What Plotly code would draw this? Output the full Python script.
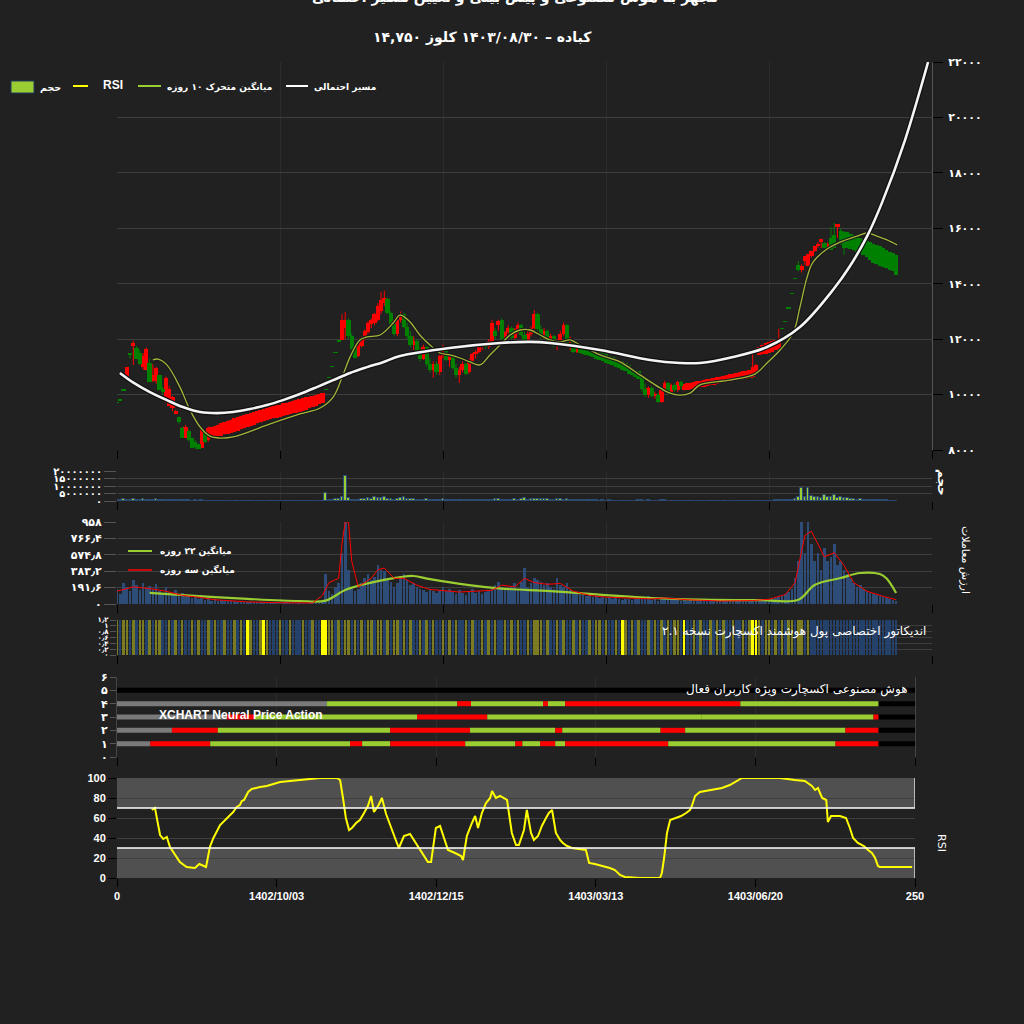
import plotly.graph_objects as go

W = H = 1024
def fx(p): return p / W
def fy(p): return 1 - p / H

BG = "#212121"
GRID = "#3e3e3e"
RED = "#ff0000"
GREEN = "#008000"
FONT = "DejaVu Sans"

# ---------------- price candles (index 0..239) ----------------
open_ = [9700, 9800, 10150, 10630, 11460, 11750, 11680, 11500, 11000, 10900,
         11140, 10500, 10500, 10700, 10200, 9730, 9600, 9500, 9300, 9200,
         8790, 8430, 8700, 8430, 8300, 8200, 8070, 8600, 8350, 8430,
         8460, 8490, 8520, 8560, 8590, 8620, 8650, 8700, 8740, 8780,
         8830, 8870, 8920, 8960, 9000, 9040, 9080, 9110, 9140, 9170,
         9200, 9230, 9260, 9290, 9320, 9350, 9370, 9420, 9460, 9500,
         9550, 9600, 9650, 9700, 10165, 10600, 11000, 11500, 11930, 11970,
         12400, 12690, 12100, 11680, 11400, 11750, 12000, 12250, 12550, 12600,
         12700, 13000, 13300, 13450, 12950, 12550, 12200, 12700, 12900, 12450,
         12100, 11800, 11950, 11500, 11300, 11700, 11100, 10900, 11100, 10800,
         11400, 11700, 11250, 11400, 10950, 10700, 10900, 11100, 10800, 11200,
         11450, 11550, 11750, 11800, 11700, 11950, 12300, 12500, 12690, 12000,
         12250, 12400, 12050, 12350, 12500, 12150, 11900, 12200, 12400, 12900,
         12350, 12100, 12300, 11900, 12100, 11750, 11900, 12200, 12500, 11800,
         11900, 11550, 11800, 11750, 11700, 11650, 11620, 11580, 11540, 11500,
         11450, 11400, 11350, 11300, 11250, 11200, 11150, 11050, 10950, 10900,
         10850, 10600, 10200, 10000, 10250, 9950, 10000, 9750, 10150, 10400,
         10100, 10350, 10150, 10450, 10150, 10170, 10190, 10210, 10230, 10260,
         10280, 10300, 10330, 10350, 10370, 10400, 10420, 10440, 10460, 10490,
         10510, 10530, 10550, 10580, 10600, 10650, 10800, 11430, 11450, 11480,
         11500, 11550, 11600, 11650, 12370, 12620, 13120, 13630, 14170, 14670,
         14500, 14820, 14640, 15000, 15190, 15370, 15510, 15470, 15290, 15650,
         15760, 16050, 15900, 15870, 15850, 15800, 15750, 15700, 15650, 15600,
         15550, 15500, 15450, 15400, 15350, 15300, 15200, 15150, 15100, 15040]
high_ = [9700, 9800, 10150, 11000, 11460, 11950, 11750, 11600, 11500, 11700,
         11300, 11100, 11000, 10700, 10300, 10650, 10300, 9950, 9450, 9200,
         8850, 8900, 8750, 8450, 8350, 8200, 8800, 8650, 8850, 8830,
         8870, 8920, 8960, 9010, 9060, 9100, 9150, 9190, 9230, 9260,
         9300, 9330, 9370, 9400, 9440, 9470, 9510, 9540, 9580, 9610,
         9640, 9680, 9710, 9740, 9780, 9810, 9840, 9870, 9900, 9930,
         9960, 9990, 10020, 10050, 10165, 10600, 11000, 11500, 11930, 12900,
         12980, 12750, 12200, 11700, 11800, 12100, 12350, 12650, 12750, 12950,
         13300, 13700, 13750, 13500, 13000, 12700, 12800, 13000, 12950, 12600,
         12300, 12100, 12000, 11700, 11800, 11750, 11300, 11200, 11200, 11500,
         11800, 11750, 11500, 11450, 11100, 11000, 11200, 11150, 11300, 11500,
         11600, 11800, 11850, 11900, 12000, 12700, 12400, 12700, 12750, 12300,
         12500, 12450, 12400, 12600, 12550, 12350, 12300, 12450, 13050, 12950,
         12500, 12400, 12350, 12200, 12150, 12000, 12300, 12600, 12550, 12100,
         11950, 11900, 11850, 11750, 11700, 11650, 11620, 11580, 11540, 11500,
         11450, 11400, 11350, 11300, 11250, 11200, 11150, 11050, 10950, 10900,
         10850, 10650, 10400, 10300, 10300, 10100, 10050, 10200, 10500, 10450,
         10400, 10400, 10500, 10500, 10380, 10400, 10430, 10450, 10480, 10500,
         10530, 10550, 10580, 10600, 10630, 10650, 10680, 10700, 10730, 10760,
         10790, 10810, 10840, 10860, 10890, 11540, 11100, 11700, 11800, 11850,
         11900, 11950, 11970, 12370, 12370, 12620, 13120, 13630, 14170, 14820,
         14700, 15000, 15080, 15190, 15370, 15500, 15620, 15500, 15500, 16050,
         16190, 16150, 16000, 15900, 15850, 15800, 15750, 15700, 15650, 15600,
         15550, 15500, 15450, 15400, 15350, 15300, 15200, 15150, 15100, 15040]
low_ = [9700, 9800, 10150, 10630, 11300, 11070, 11300, 11070, 10900, 10890,
        10450, 10450, 10400, 10165, 10000, 9700, 9600, 9400, 9300, 8950,
        8430, 8430, 8300, 8070, 8050, 8030, 8070, 8250, 8300, 8430,
        8460, 8490, 8520, 8560, 8590, 8620, 8650, 8700, 8740, 8780,
        8830, 8870, 8920, 8960, 9000, 9040, 9080, 9110, 9140, 9170,
        9200, 9230, 9260, 9290, 9320, 9350, 9370, 9420, 9460, 9500,
        9550, 9600, 9650, 9700, 10165, 10600, 11000, 11500, 11930, 11970,
        12000, 12000, 11600, 11300, 11350, 11700, 11950, 12200, 12400, 12500,
        12650, 12900, 13200, 12900, 12500, 12100, 12100, 12600, 12400, 12000,
        11700, 11600, 11400, 11200, 11250, 11000, 10800, 10600, 10700, 10700,
        11300, 11200, 11000, 10900, 10600, 10420, 10800, 10700, 10750, 11100,
        11300, 11500, 11600, 11650, 11650, 11900, 12000, 12300, 11970, 11900,
        12100, 12000, 12000, 12200, 12100, 11800, 11850, 12100, 12350, 12300,
        12000, 12000, 11800, 11800, 11700, 11600, 11850, 12100, 11700, 11600,
        11500, 11500, 11500, 11450, 11420, 11400, 11350, 11300, 11250, 11200,
        11150, 11100, 11050, 11000, 10950, 10900, 10850, 10750, 10700, 10650,
        10550, 10100, 9900, 9880, 9900, 9850, 9700, 9700, 10100, 10000,
        10050, 10100, 10100, 10200, 10150, 10170, 10190, 10210, 10230, 10260,
        10280, 10300, 10330, 10350, 10370, 10400, 10420, 10440, 10460, 10490,
        10510, 10530, 10550, 10580, 10600, 10600, 10750, 11430, 11450, 11480,
        11500, 11550, 11600, 11650, 12370, 12620, 13120, 13630, 14170, 14450,
        14400, 14670, 14640, 14950, 15150, 15300, 15290, 15290, 15250, 15220,
        15290, 15650, 15400, 15040, 15280, 15250, 15200, 15150, 15100, 15050,
        14950, 14850, 14750, 14700, 14650, 14600, 14550, 14500, 14460, 14320]
close_ = [9700, 9800, 10150, 11000, 11460, 11860, 11300, 11100, 11400, 11640,
          10450, 10700, 10950, 10165, 10100, 10600, 10200, 9900, 9420, 9000,
          8430, 8830, 8350, 8070, 8100, 8050, 8720, 8300, 8800, 8830,
          8870, 8920, 8960, 9010, 9060, 9100, 9150, 9190, 9230, 9260,
          9300, 9330, 9370, 9400, 9440, 9470, 9510, 9540, 9580, 9610,
          9640, 9680, 9710, 9740, 9780, 9810, 9840, 9870, 9900, 9930,
          9960, 9990, 10020, 10050, 10165, 10600, 11000, 11500, 11930, 12700,
          12690, 12100, 11650, 11320, 11750, 12050, 12300, 12600, 12700, 12900,
          13200, 13400, 13500, 12950, 12550, 12200, 12700, 12900, 12450, 12100,
          11800, 11950, 11500, 11300, 11700, 11100, 10900, 11100, 10800, 11400,
          11700, 11250, 11400, 10950, 10700, 10900, 11100, 10750, 11200, 11450,
          11550, 11750, 11800, 11700, 11950, 12600, 12100, 12650, 12000, 12250,
          12400, 12050, 12350, 12500, 12150, 11900, 12200, 12400, 12900, 12350,
          12100, 12300, 11900, 12100, 11750, 11900, 12200, 12500, 11800, 11900,
          11550, 11800, 11500, 11450, 11420, 11400, 11350, 11300, 11250, 11200,
          11150, 11100, 11050, 11000, 10950, 10900, 10850, 10750, 10700, 10650,
          10550, 10200, 10000, 10250, 9950, 10000, 9750, 10150, 10400, 10100,
          10350, 10150, 10450, 10300, 10380, 10400, 10430, 10450, 10480, 10500,
          10530, 10550, 10580, 10600, 10630, 10650, 10680, 10700, 10730, 10760,
          10790, 10810, 10840, 10860, 10890, 11000, 11050, 11700, 11800, 11850,
          11900, 11950, 11970, 12000, 12370, 12620, 13120, 13630, 14170, 14500,
          14650, 15000, 15080, 15190, 15370, 15450, 15620, 15290, 15450, 15220,
          15290, 16150, 15450, 15290, 15280, 15250, 15200, 15150, 15100, 15050,
          14950, 14850, 14750, 14700, 14650, 14600, 14550, 14500, 14460, 14320]
idx = list(range(len(close_)))

# 10-day moving average
ma_x = [11, 12.6, 15.3, 19.3, 22.4, 25.5, 28.5, 31.6, 35.6, 46, 56.1, 62.3, 66.3, 69.3, 71.5,
        74.5, 76.7, 80.7, 84.7, 86.8, 89.9, 92.9, 96, 99.1, 102.1, 105.2, 108.3, 111.3, 114.4,
        117.5, 120.6, 123.6, 126.7, 129.8, 132.8, 135.9, 139, 142, 145.1, 148.2, 154.3, 160.4,
        166.6, 169.6, 172.7, 175.8, 178.8, 188, 195.7, 199.4, 203.4, 207.4, 209.5, 211.7, 213.5,
        217.8, 221.8, 227, 230.1, 233.1, 236.2, 239.3]
ma_y = [11250, 11280, 11070, 10270, 9440, 8830, 8500, 8430, 8470, 8900, 9300, 9515, 9910, 10700,
        11360, 11970, 12080, 12150, 12580, 12870, 12620, 12150, 11790, 11500, 11430, 11320, 11180,
        11070, 11430, 11790, 12150, 12330, 12330, 12150, 11970, 11900, 11970, 11790, 11610, 11430,
        11180, 10710, 10240, 10050, 9980, 10050, 10350, 10520, 10740, 11140, 11610, 12220, 13160,
        14240, 14780, 15250, 15500, 15720, 15830, 15720, 15580, 15400]

# probable path
path_x = [0.9, 4.9, 10.1, 15.3, 20.2, 25.5, 30.7, 35.6, 40.8, 46.0, 50.9, 56.1, 61.3, 66.3, 71.5,
          76.7, 81.6, 86.8, 102, 117.5, 126.7, 132.8, 148.2, 163.5, 172.7, 178.8, 189, 199.4,
          209.5, 219.6, 224.8, 230.1, 234.7, 241.7, 248.8]
path_y = [10780, 10440, 10090, 9800, 9550, 9370, 9330, 9370, 9480, 9620, 9800, 10020, 10270, 10520,
          10780, 10990, 11170, 11390, 11680, 11860, 11900, 11860, 11610, 11250, 11140, 11140, 11355,
          11716, 12438, 13771, 14629, 15716, 16935, 19175, 22000]

# ---------------- volume (millions of shares) ----------------
vol = [0.8, 0.5, 1.2, 0.9, 0.6, 1.4, 1.0, 0.7, 1.1, 0.9,
       1.0, 0.8, 1.1, 0.7, 0.6, 0.9, 0.7, 0.5, 0.8, 0.4,
       0.6, 0.4, 0.5, 0.3, 0.4, 0.3, 0.5, 0.2, 0.3, 0.2,
       0.3, 0.2, 0.2, 0.1, 0.2, 0.1, 0.1, 0.1, 0.1, 0.1,
       0.1, 0.1, 0.1, 0.1, 0.1, 0.1, 0.1, 0.1, 0.1, 0.1,
       0.1, 0.1, 0.1, 0.1, 0.1, 0.1, 0.1, 0.1, 0.1, 0.1,
       0.1, 0.1, 0.1, 0.2, 5.5, 1.0, 0.8, 1.2, 1.5, 3.0,
       17.0, 2.0, 1.0, 0.8, 1.0, 1.2, 1.5, 1.8, 1.5, 2.5,
       2.2, 2.0, 3.0, 1.5, 1.2, 1.0, 1.2, 2.0, 2.5, 1.5,
       1.2, 1.4, 1.0, 0.9, 0.8, 1.5, 0.9, 0.8, 0.7, 0.9,
       1.1, 0.8, 1.0, 0.7, 0.6, 0.9, 0.7, 0.6, 0.8, 0.9,
       0.7, 0.8, 0.6, 0.7, 0.8, 0.9, 1.1, 1.3, 1.0, 0.9,
       0.8, 1.0, 1.2, 0.9, 1.3, 2.0, 1.0, 1.2, 1.5, 1.4,
       1.3, 1.1, 1.2, 1.0, 0.9, 1.5, 1.1, 1.0, 1.2, 0.8,
       0.7, 0.6, 0.5, 0.5, 0.4, 0.5, 0.4, 0.4, 0.3, 0.4,
       0.3, 0.4, 0.3, 0.3, 0.3, 0.2, 0.3, 0.3, 0.2, 0.3,
       0.4, 0.4, 0.3, 0.5, 0.3, 0.3, 0.2, 0.4, 0.4, 0.3,
       0.3, 0.3, 0.3, 0.2, 0.2, 0.2, 0.2, 0.2, 0.2, 0.2,
       0.2, 0.2, 0.2, 0.2, 0.2, 0.2, 0.2, 0.2, 0.2, 0.2,
       0.2, 0.2, 0.2, 0.2, 0.2, 0.3, 0.2, 0.3, 0.3, 0.3,
       0.3, 0.3, 0.4, 0.4, 0.5, 0.6, 0.7, 0.8, 1.5, 2.5,
       8.5, 3.0, 9.0, 3.5, 2.5, 3.0, 2.0, 4.0, 2.5, 3.0,
       4.0, 2.0, 2.5, 2.0, 1.8, 1.5, 1.2, 1.0, 1.1, 0.9,
       0.8, 0.7, 0.6, 0.5, 0.5, 0.4, 0.4, 0.3, 0.3, 0.2]

# ---------------- trading value ----------------
val = [180, 120, 250, 200, 150, 280, 220, 160, 240, 190,
       210, 170, 230, 150, 120, 200, 140, 110, 160, 90,
       130, 80, 110, 70, 90, 60, 100, 50, 70, 40,
       60, 40, 50, 30, 40, 35, 30, 25, 30, 20,
       25, 20, 22, 18, 20, 15, 18, 15, 16, 12,
       15, 12, 14, 10, 12, 10, 12, 10, 11, 10,
       12, 10, 15, 20, 350, 150, 120, 200, 250, 600,
       958, 400, 200, 150, 180, 250, 300, 350, 280, 320,
       450, 400, 380, 300, 260, 200, 240, 300, 350, 280,
       220, 250, 200, 180, 160, 140, 170, 150, 130, 160,
       200, 150, 180, 140, 120, 160, 130, 110, 150, 170,
       130, 150, 120, 140, 160, 180, 220, 260, 200, 180,
       160, 200, 240, 180, 260, 420, 200, 250, 300, 280,
       260, 220, 240, 200, 180, 300, 220, 200, 250, 160,
       140, 120, 100, 110, 90, 100, 80, 90, 70, 80,
       70, 80, 60, 70, 60, 50, 60, 55, 50, 60,
       80, 70, 60, 90, 50, 60, 40, 80, 70, 60,
       60, 50, 60, 40, 50, 40, 45, 40, 35, 40,
       35, 40, 30, 35, 30, 35, 30, 40, 30, 35,
       30, 35, 40, 30, 35, 60, 40, 50, 60, 55,
       50, 60, 70, 80, 100, 120, 140, 180, 300, 500,
       958, 600, 958, 700, 500, 600, 400, 650, 500, 550,
       700, 450, 500, 400, 350, 300, 250, 200, 220, 180,
       150, 130, 120, 100, 90, 80, 70, 60, 50, 40]
ma22_x = [10, 25, 40, 56, 64, 70, 78, 87, 91, 96, 108, 118, 133, 148, 164, 179, 197, 209, 214,
          222, 228, 234, 236, 239]
ma22_y = [130, 93, 60, 35, 40, 164, 250, 315, 327, 290, 220, 180, 150, 110, 70, 50, 45, 50, 222,
          304, 362, 350, 300, 128]
ma3_x = [0, 5, 10, 15, 20, 25, 30, 40, 50, 60, 63, 65, 68, 69, 70, 71, 72, 74, 78, 80, 82, 85, 88,
         92, 96, 100, 105, 110, 115, 118, 122, 125, 128, 132, 136, 140, 145, 150, 160, 164, 168,
         175, 185, 195, 200, 205, 208, 210, 211, 213, 215, 217, 220, 223, 226, 230, 235, 239]
ma3_y = [150, 200, 180, 150, 100, 80, 50, 25, 15, 12, 100, 250, 300, 700, 958, 958, 500, 200, 300,
         400, 420, 300, 300, 220, 170, 160, 140, 150, 160, 220, 200, 300, 250, 230, 240, 150, 100,
         80, 70, 60, 70, 50, 35, 40, 55, 110, 250, 600, 800, 850, 700, 550, 600, 450, 250, 150, 90, 50]

# ---------------- smart-money indicator (0=blue, 1=olive, 2=yellow) ----------------
ind_c = [1, 0, 1, 1, 0, 1, 0, 1, 1, 0, 1, 0, 1, 1, 0, 0, 1, 0, 1, 0,
         1, 0, 0, 1, 0, 1, 0, 0, 1, 0, 1, 0, 0, 1, 0, 0, 1, 0, 1, 0,
         2, 1, 0, 0, 1, 2, 1, 0, 0, 0, 1, 0, 0, 1, 0, 0, 0, 1, 0, 0,
         1, 0, 0, 2, 2, 1, 1, 0, 1, 0, 1, 1, 0, 1, 0, 1, 0, 1, 1, 0,
         1, 1, 0, 1, 0, 1, 1, 0, 1, 0, 1, 0, 0, 1, 0, 1, 0, 1, 0, 0,
         1, 0, 1, 0, 1, 0, 0, 1, 0, 1, 0, 0, 1, 0, 1, 0, 1, 0, 0, 1,
         0, 1, 0, 1, 0, 0, 1, 0, 1, 1, 1, 0, 1, 0, 0, 1, 0, 1, 0, 0,
         1, 0, 1, 0, 0, 1, 0, 1, 1, 0, 1, 0, 0, 1, 0, 2, 1, 0, 1, 0,
         1, 0, 0, 1, 0, 1, 0, 1, 0, 1, 0, 1, 1, 0, 2, 0, 0, 1, 0, 1,
         0, 0, 1, 0, 1, 0, 1, 0, 0, 1, 0, 0, 1, 0, 1, 2, 2, 1, 0, 1,
         1, 0, 1, 0, 1, 0, 1, 1, 0, 1, 1, 0, 1, 0, 0, 0, 0, 0, 0, 0,
         0, 0, 0, 0, 0, 0, 0, 0, 0, 0, 0, 0, 0, 0, 0, 0, 0, 0, 0, 0]

# ---------------- neural price action rows: (start, end, state) ----------------
row4 = [(0, 65.8, "g"), (65.8, 106.6, "up"), (106.6, 110.9, "dn"), (110.9, 133.5, "up"),
        (133.5, 135, "dn"), (135, 140.4, "up"), (140.4, 195.3, "dn"), (195.3, 238.6, "up"),
        (238.6, 250, "k")]
row3 = [(0, 34.5, "g"), (34.5, 43, "dn"), (43, 94, "up"), (94, 116, "dn"), (116, 183, "up"),
        (183, 237, "up"), (237, 238.6, "dn"), (238.6, 250, "k")]
row2 = [(0, 17.2, "g"), (17.2, 31.6, "dn"), (31.6, 85.6, "up"), (85.6, 110.6, "dn"),
        (110.6, 137.3, "up"), (137.3, 139.5, "dn"), (139.5, 170.3, "up"), (170.3, 178, "dn"),
        (178, 228.2, "up"), (228.2, 238.6, "dn"), (238.6, 250, "k")]
row1 = [(0, 10.4, "g"), (10.4, 29.2, "dn"), (29.2, 73.0, "up"), (73.0, 76.8, "dn"),
        (76.8, 85.6, "up"), (85.6, 109.1, "dn"), (109.1, 124.8, "up"), (124.8, 127.0, "dn"),
        (127.0, 132.6, "up"), (132.6, 137.3, "dn"), (137.3, 140.4, "up"), (140.4, 172.7, "dn"),
        (172.7, 225.1, "up"), (225.1, 238.6, "dn"), (238.6, 250, "k")]

# ---------------- RSI (index, value) ----------------
rsi_pts = [(10.9, 68), (11.9, 70), (12.6, 58), (13.5, 43), (14.5, 39), (15.6, 41), (16.6, 31),
           (18.2, 23), (19.7, 16), (21.8, 11), (24.4, 10), (25.8, 14), (27.9, 11), (29.1, 31),
           (30.2, 40), (32.3, 53), (34.4, 60), (36.4, 66), (37.5, 71), (38.5, 73), (39.1, 77),
           (39.8, 78), (41.1, 86), (42.2, 89), (44.8, 91), (46.9, 92), (49.0, 94), (51.1, 96),
           (54.2, 97), (57.3, 98), (60.5, 99), (63.6, 100), (68.9, 100), (69.9, 98), (70.8, 80),
           (71.7, 60), (72.7, 48), (73.6, 50), (74.9, 55), (76.1, 58), (77.4, 65), (78.6, 72),
           (79.6, 82), (80.5, 66), (81.8, 72), (83.0, 80), (84.3, 64), (85.8, 50), (87.1, 40),
           (88.3, 30), (89.9, 42), (91.8, 44), (93.0, 38), (94.9, 28), (96.2, 22), (97.4, 16),
           (98.4, 16), (99.9, 50), (101.2, 52), (102.8, 35), (103.7, 28), (105.9, 25), (107.8, 22),
           (108.4, 18), (109.6, 42), (111.2, 55), (112.2, 62), (113.1, 50), (114.3, 65), (115.6, 75),
           (116.9, 80), (117.5, 87), (118.7, 80), (120.0, 82), (120.9, 80), (122.2, 78), (123.1, 58),
           (123.7, 45), (125.0, 33), (125.9, 33), (127.5, 48), (128.4, 68), (129.7, 45), (130.6, 38),
           (131.9, 42), (133.1, 52), (134.4, 60), (135.3, 65), (136.3, 68), (137.5, 45), (138.8, 38),
           (139.7, 35), (141.0, 32), (142.5, 30), (146.9, 28), (147.9, 15), (149.7, 14), (152.3, 12),
           (154.4, 10), (156.0, 8), (157.6, 3), (159.1, 1), (163.8, 0), (170.1, 0), (170.7, 5),
           (171.4, 20), (172.3, 45), (173.3, 58), (175.1, 60), (176.7, 62), (178.3, 65), (179.5, 68),
           (180.1, 72), (181.1, 82), (182.6, 86), (186.4, 88), (189.5, 90), (192.0, 93), (194.2, 97),
           (195.8, 100), (207.7, 100), (209.6, 99), (212.4, 98), (215.5, 97), (217.7, 92), (218.7, 88),
           (219.6, 90), (220.9, 80), (222.2, 78), (222.7, 56), (223.7, 62), (226.5, 62), (228.4, 60),
           (229.6, 50), (230.6, 40), (232.1, 35), (234.0, 32), (235.3, 28), (236.5, 25), (237.5, 20),
           (238.4, 12), (239.0, 11), (249.1, 11)]

x_ticks = [0, 50, 100, 150, 200, 250]
x_tick_text = ["0", "1402/10/03", "1402/12/15", "1403/03/13", "1403/06/20", "250"]
price_ticks = [8000, 10000, 12000, 14000, 16000, 18000, 20000, 22000]
vol_ticks = [0, 5, 10, 15, 20]
val_ticks = [0, 191.6, 383.2, 574.8, 766.4, 958]
ind_ticks = [0, 0.2, 0.4, 0.6, 0.8, 1, 1.2]

FA = str.maketrans("0123456789.", "۰۱۲۳۴۵۶۷۸۹٫")
def fa(v):
    s = str(int(round(v))) if abs(v - round(v)) < 1e-9 else ("%.1f" % v)
    return s.translate(FA)

fig = go.Figure()

# ---- main price panel ----
up = [i for i in idx if close_[i] > open_[i]]
dn = [i for i in idx if close_[i] <= open_[i]]
for sel, col in ((up, RED), (dn, GREEN)):
    wx, wy = [], []
    for i in sel:
        wx += [i, i, None]
        wy += [low_[i], high_[i], None]
    fig.add_trace(go.Scatter(x=wx, y=wy, mode="lines", line=dict(color=col, width=1),
                             hoverinfo="skip", showlegend=False, xaxis="x", yaxis="y"))
    fig.add_trace(go.Bar(x=sel, y=[max(abs(close_[i] - open_[i]), 25) for i in sel],
                         base=[min(open_[i], close_[i]) for i in sel], width=1.3,
                         marker=dict(color=col, line=dict(width=0)), showlegend=False,
                         xaxis="x", yaxis="y"))

fig.add_trace(go.Scatter(x=ma_x, y=ma_y, mode="lines", line=dict(color="#1a1a1a", width=3.5, shape="spline"),
                         hoverinfo="skip", showlegend=False, xaxis="x", yaxis="y"))
fig.add_trace(go.Scatter(x=ma_x, y=ma_y, mode="lines", line=dict(color="#a2b53a", width=1.3, shape="spline"),
                         showlegend=False, xaxis="x", yaxis="y"))
fig.add_trace(go.Scatter(x=path_x, y=path_y, mode="lines", line=dict(color="#111111", width=5, shape="spline", smoothing=1.0),
                         hoverinfo="skip", showlegend=False, xaxis="x", yaxis="y"))
fig.add_trace(go.Scatter(x=path_x, y=path_y, mode="lines", line=dict(color="#f4f4f4", width=2.6, shape="spline", smoothing=1.0),
                         showlegend=False, xaxis="x", yaxis="y"))

# ---- volume ----
fig.add_trace(go.Bar(x=idx, y=[v * 1e6 for v in vol], width=0.8,
                     marker=dict(color="#9acd32", line=dict(color="#2a4a7a", width=1)),
                     showlegend=False, xaxis="x2", yaxis="y2"))

# ---- trading value ----
fig.add_trace(go.Bar(x=idx, y=val, width=0.8, marker=dict(color="#2d4d78", line=dict(width=0)),
                     showlegend=False, xaxis="x3", yaxis="y3"))
fig.add_trace(go.Scatter(x=ma22_x, y=ma22_y, mode="lines", line=dict(color="#9acd32", width=2.2, shape="spline"),
                         showlegend=False, xaxis="x3", yaxis="y3"))
fig.add_trace(go.Scatter(x=ma3_x, y=ma3_y, mode="lines", line=dict(color="#ff0000", width=1),
                         showlegend=False, xaxis="x3", yaxis="y3"))

# ---- indicator stripes ----
ind_cols = ["#24416b", "#7b7b22", "#ffff00"]
fig.add_trace(go.Bar(x=list(range(len(ind_c))), y=[1.2] * len(ind_c), width=0.75,
                     marker=dict(color=[ind_cols[c] for c in ind_c], line=dict(width=0)),
                     showlegend=False, xaxis="x4", yaxis="y4"))

# ---- neural rows ----
state_col = {"g": "#7a7a7a", "up": "#9acd32", "dn": "#ff0000", "k": "#000000"}
fig.add_trace(go.Scatter(x=[0, 250], y=[5, 5], mode="lines", line=dict(color="#000000", width=5),
                         showlegend=False, xaxis="x5", yaxis="y5"))
for lvl, row in ((4, row4), (3, row3), (2, row2), (1, row1)):
    for s, e, st in row:
        fig.add_trace(go.Scatter(x=[s, e], y=[lvl, lvl], mode="lines",
                                 line=dict(color=state_col[st], width=5),
                                 showlegend=False, xaxis="x5", yaxis="y5"))

# ---- RSI ----
fig.add_trace(go.Scatter(x=[p[0] for p in rsi_pts], y=[p[1] for p in rsi_pts], mode="lines",
                         line=dict(color="#ffff00", width=2), showlegend=False, xaxis="x6", yaxis="y6"))

tick_font = dict(family="Liberation Sans", size=11, color="#ffffff", weight="bold")
fa_font = dict(family=FONT, size=11, color="#ffffff", weight="bold")

XM = [fx(117), fx(932)]
XS = [fx(117), fx(915)]
common_x = dict(range=[0, 250], tickvals=x_ticks, showticklabels=False, ticks="outside",
                ticklen=8, tickcolor="#000000", showgrid=True, gridcolor="#2c2c2c", zeroline=False,
                showline=False, automargin=False)
lay = dict(
    width=W, height=H, autosize=False, margin=dict(l=0, r=0, t=0, b=0, pad=0),
    paper_bgcolor=BG, plot_bgcolor=BG, barmode="overlay", bargap=0,
    showlegend=False,
    xaxis=dict(domain=XM, anchor="y", **common_x),
    yaxis=dict(domain=[fy(450), fy(62)], range=[8000, 22000], side="right", anchor="x",
               tickvals=price_ticks, ticktext=[fa(v) for v in price_ticks], tickfont=fa_font,
               ticks="outside", ticklen=10, tickcolor="#000000", gridcolor=GRID, zeroline=False,
               showline=True, linecolor="#555555", automargin=False, ticklabelstandoff=3),
    xaxis2=dict(domain=XM, anchor="y2", **common_x),
    yaxis2=dict(domain=[fy(501), fy(471)], range=[0, 20e6], anchor="x2",
                tickvals=[v * 1e6 for v in vol_ticks], ticktext=[fa(v * 1e6) for v in vol_ticks],
                tickfont=dict(family=FONT, size=10, color="#ffffff", weight="bold"),
                ticks="outside", ticklen=12, tickcolor="#555555",
                gridcolor=GRID, zeroline=False, showline=False, automargin=False),
    xaxis3=dict(domain=XM, anchor="y3", **common_x),
    yaxis3=dict(domain=[fy(604), fy(522)], range=[0, 958], anchor="x3",
                tickvals=val_ticks, ticktext=[fa(v) for v in val_ticks],
                tickfont=fa_font, ticks="outside", ticklen=12, tickcolor="#555555",
                gridcolor=GRID, zeroline=False, showline=False, automargin=False),
    xaxis4=dict(domain=XM, anchor="y4", **common_x),
    yaxis4=dict(domain=[fy(655), fy(620)], range=[0, 1.2], anchor="x4",
                tickvals=ind_ticks, ticktext=[fa(v) for v in ind_ticks],
                tickfont=dict(family=FONT, size=7, color="#ffffff", weight="bold"),
                ticks="outside", ticklen=6, tickcolor="#555555", gridcolor=GRID, zeroline=False,
                layer="below traces", automargin=False),
    xaxis5=dict(domain=XS, anchor="y5", **common_x),
    yaxis5=dict(domain=[fy(757), fy(677)], range=[0, 6], anchor="x5",
                tickvals=list(range(7)), ticktext=[fa(v) for v in range(7)], tickfont=fa_font,
                ticks="outside", ticklen=6, tickcolor="#555555", showgrid=False, zeroline=False,
                showline=True, linecolor="#444444", mirror=True, automargin=False),
    xaxis6=dict(domain=XS, anchor="y6", range=[0, 250], tickvals=x_ticks, ticktext=x_tick_text,
                tickfont=tick_font, ticks="outside", ticklen=8, tickcolor="#000000",
                showgrid=False, zeroline=False, automargin=False),
    yaxis6=dict(domain=[fy(878), fy(778)], range=[0, 100], anchor="x6",
                tickvals=[0, 20, 40, 60, 80, 100], tickfont=tick_font, ticks="outside", ticklen=8,
                tickcolor="#000000", gridcolor="#404040", zeroline=False, layer="above traces",
                automargin=False),
)
fig.update_layout(**lay)

shapes = []
for y0, y1 in ((70, 100), (0, 30)):
    shapes.append(dict(type="rect", xref="x6", yref="y6", x0=0, x1=250, y0=y0, y1=y1,
                       fillcolor="#505050", line=dict(width=0), layer="below"))
for yv in (70, 30):
    shapes.append(dict(type="line", xref="x6", yref="y6", x0=0, x1=250, y0=yv, y1=yv,
                       line=dict(color="#ffffff", width=1.5)))
shapes.append(dict(type="line", xref="x6", yref="y6", x0=250, x1=250, y0=70, y1=100, line=dict(color="#dddddd", width=1.5)))
shapes.append(dict(type="line", xref="x6", yref="y6", x0=250, x1=250, y0=0, y1=30, line=dict(color="#dddddd", width=1.5)))
# legend symbols
shapes.append(dict(type="rect", xref="paper", yref="paper", x0=fx(11), x1=fx(34), y0=fy(93), y1=fy(81),
                   fillcolor="#9acd32", line=dict(color="#1f3a5f", width=1)))
shapes.append(dict(type="line", xref="paper", yref="paper", x0=fx(73), x1=fx(88), y0=fy(86), y1=fy(86),
                   line=dict(color="#ffff00", width=2)))
shapes.append(dict(type="line", xref="paper", yref="paper", x0=fx(138), x1=fx(161), y0=fy(86), y1=fy(86),
                   line=dict(color="#9acd32", width=2)))
shapes.append(dict(type="line", xref="paper", yref="paper", x0=fx(286), x1=fx(308), y0=fy(86), y1=fy(86),
                   line=dict(color="#ffffff", width=2)))
shapes.append(dict(type="line", xref="paper", yref="paper", x0=fx(128), x1=fx(152), y0=fy(551), y1=fy(551),
                   line=dict(color="#9acd32", width=2)))
shapes.append(dict(type="line", xref="paper", yref="paper", x0=fx(128), x1=fx(152), y0=fy(570), y1=fy(570),
                   line=dict(color="#ff0000", width=1.5)))
fig.update_layout(shapes=shapes)

ann = []
def txt(x, y, t, size=11, anchor="center", color="#ffffff", angle=0, family=FONT, weight="bold"):
    ann.append(dict(x=fx(x), y=fy(y), xref="paper", yref="paper", text=t, showarrow=False,
                    xanchor=anchor, yanchor="middle", textangle=angle,
                    font=dict(family=family, size=size, color=color, weight=weight)))

txt(515, -3, "مجهز به هوش مصنوعی و پیش بینی و تعیین مسیر احتمالی", size=14)
txt(482, 37, "کباده – ۱۴۰۳/۰۸/۳۰ کلوز ۱۴,۷۵۰", size=14)
txt(38, 87, "حجم", anchor="left", size=9.5)
txt(101, 85, "RSI", anchor="left", family="Liberation Sans", size=12)
txt(165, 87, "میانگین متحرک ۱۰ روزه", anchor="left", size=9)
txt(312, 87, "مسیر احتمالی", anchor="left", size=9)
txt(942, 482, "حجم", angle=90, size=12)
txt(966, 560, "ارزش معاملات", angle=90, weight="normal", size=11)
txt(942, 843, "RSI", angle=90, weight="normal", family="DejaVu Sans", size=11)
txt(158, 551, "میانگین ۲۲ روزه", anchor="left", size=9)
txt(158, 570, "میانگین سه روزه", anchor="left", size=9)
txt(928, 631, "اندیکاتور اختصاصی پول هوشمند اکسچارت نسخه ۲.۱", anchor="right", weight="normal", size=12)
txt(910, 689, "هوش مصنوعی اکسچارت ویژه کاربران فعال", anchor="right", weight="normal", size=12)
txt(157, 715, "XCHART Neural Price Action", anchor="left", family="Liberation Sans", size=12)
fig.update_layout(annotations=ann)

fig.write_html("out.html", config={"displayModeBar": False},
               post_script="document.body.style.margin='0';document.body.style.overflow='hidden';")
